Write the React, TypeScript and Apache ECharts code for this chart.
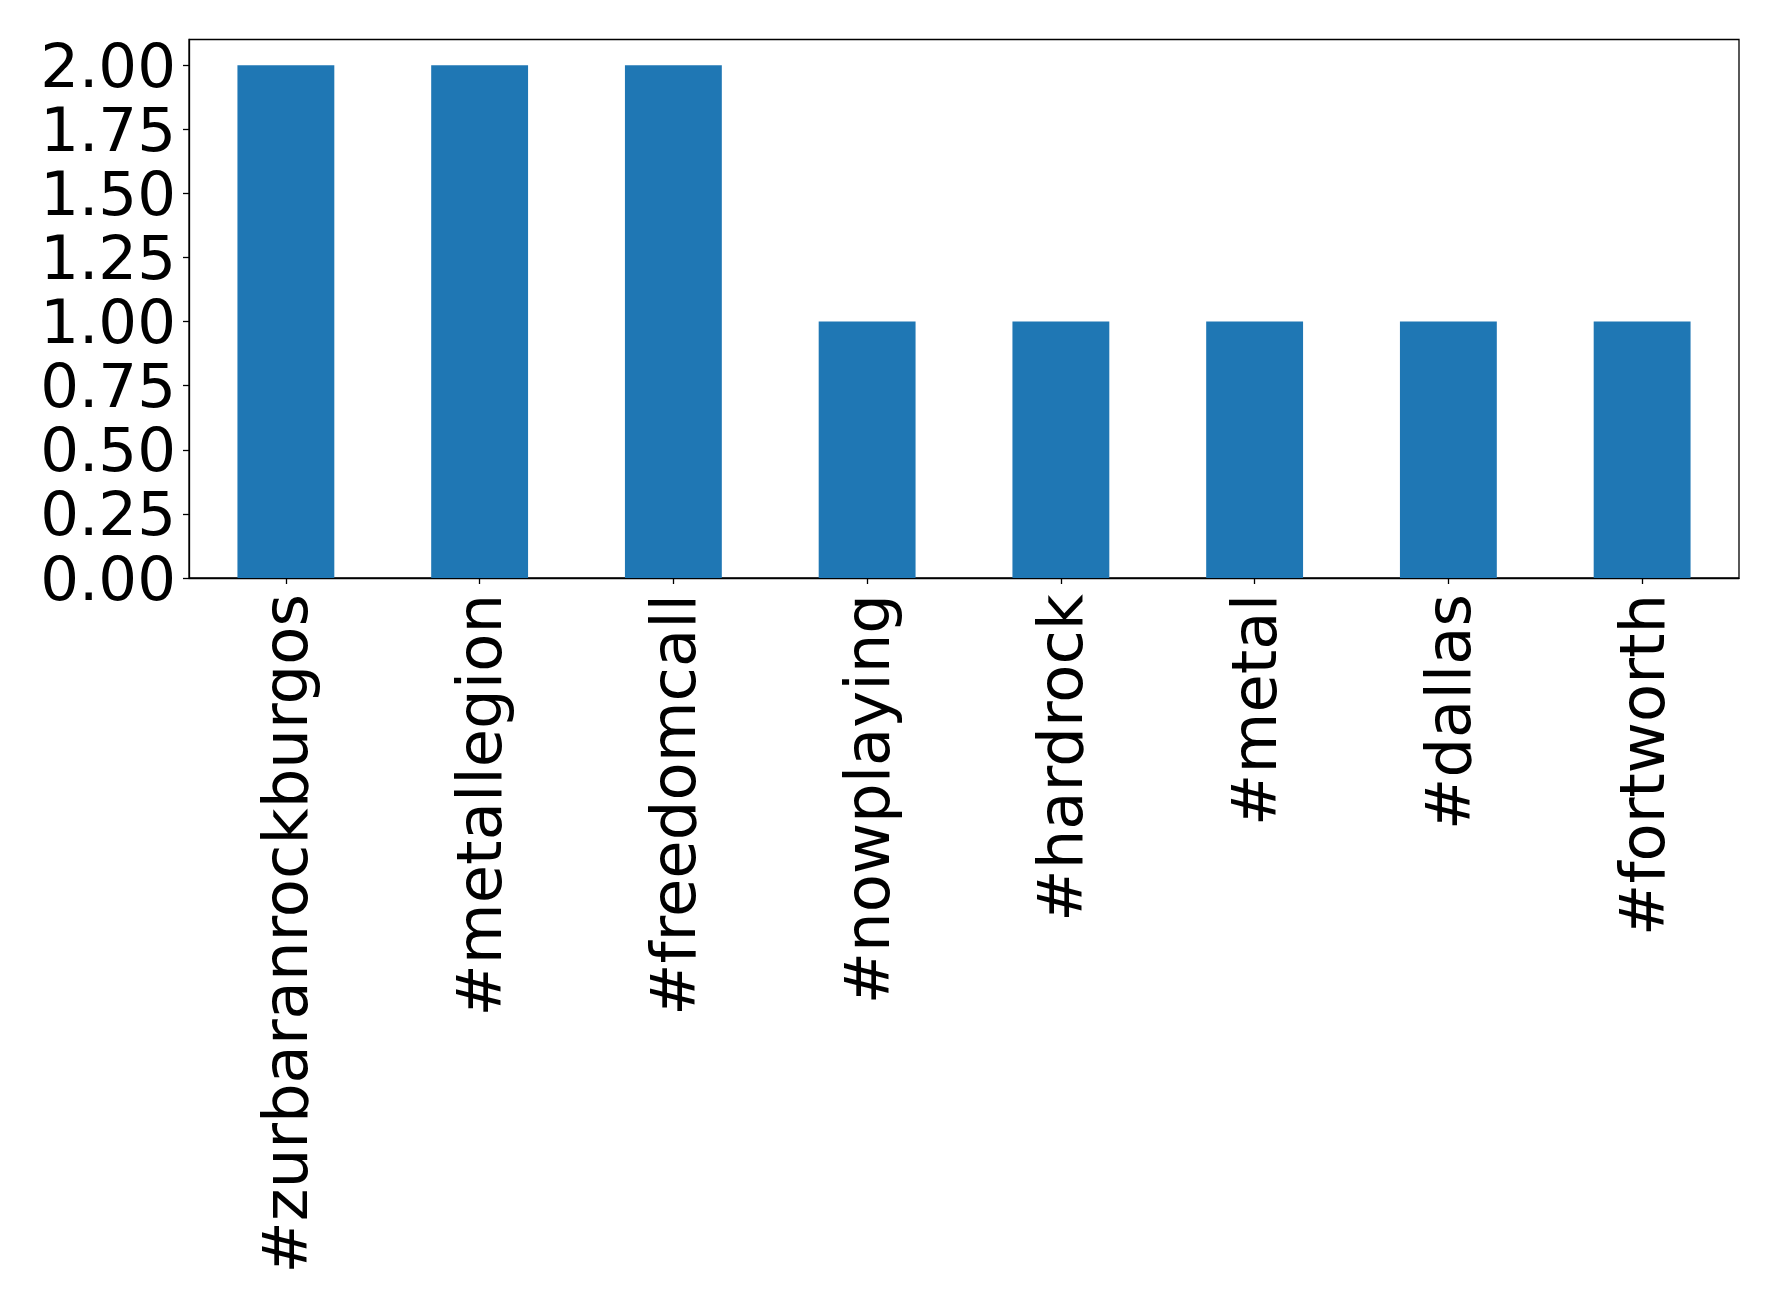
import React, { useEffect, useRef } from "react";
import * as echarts from "echarts";

const categories = [
  "#zurbaranrockburgos",
  "#metallegion",
  "#freedomcall",
  "#nowplaying",
  "#hardrock",
  "#metal",
  "#dallas",
  "#fortworth",
];
const counts = [2, 2, 2, 1, 1, 1, 1, 1];
const yTicks = [0, 0.25, 0.5, 0.75, 1.0, 1.25, 1.5, 1.75, 2.0];

export default function App() {
  const ref = useRef<HTMLDivElement>(null);
  useEffect(() => {
    if (!ref.current) return;
    const chart = echarts.init(ref.current, null, { renderer: "svg" });
    const font = "DejaVu Sans";
    chart.setOption({
      animation: false,
      backgroundColor: "#ffffff",
      grid: {
        left: 189,
        right: 39,
        top: 39.5,
        bottom: 729,
        show: true,
        borderColor: "#000000",
        borderWidth: 1.3,
        backgroundColor: "transparent",
      },
      xAxis: {
        type: "category",
        data: categories,
        boundaryGap: true,
        axisLine: { show: true, lineStyle: { color: "#000", width: 1.3 } },
        axisTick: { show: true, alignWithLabel: true, length: 6, lineStyle: { color: "#000", width: 1.3 } },
        axisLabel: {
          rotate: 90,
          fontSize: 62.5,
          fontFamily: font,
          color: "#000",
          margin: 16,
          interval: 0,
        },
        splitLine: { show: false },
      },
      yAxis: {
        type: "value",
        min: 0,
        max: 2.1,
        axisLine: { show: true, lineStyle: { color: "#000", width: 1.3 } },
        axisTick: {
          show: true,
          length: 6,
          customValues: yTicks,
          lineStyle: { color: "#000", width: 1.3 },
        },
        axisLabel: {
          customValues: yTicks,
          fontSize: 61,
          lineHeight: 56,
          fontFamily: font,
          color: "#000",
          margin: 13,
          formatter: (v: number) => v.toFixed(2),
        },
        splitLine: { show: false },
      },
      series: [
        {
          type: "bar",
          data: counts,
          barWidth: "50%",
          itemStyle: { color: "#1f77b4" },
        },
      ],
    });
    return () => chart.dispose();
  }, []);
  return (
    <div
      ref={ref}
      style={{ position: "fixed", left: 0, top: 0, width: 1778, height: 1307 }}
    />
  );
}
